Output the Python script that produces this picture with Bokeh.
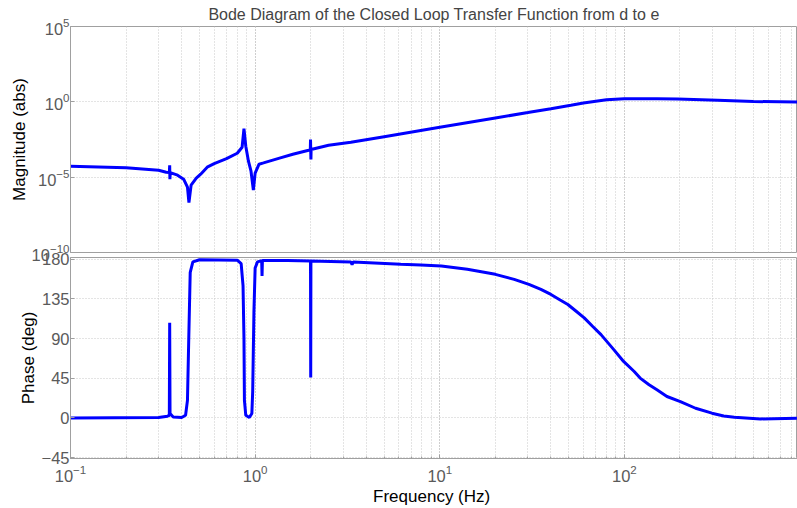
from bokeh.plotting import figure
from bokeh.layouts import column
from bokeh.models import FixedTicker, LogTickFormatter, Range1d
from bokeh.embed import file_html
from bokeh.resources import INLINE

# ---- data ----
freq_mag = [0.1, 0.2, 0.3, 0.33, 0.343, 0.3445, 0.3455, 0.347, 0.38, 0.41, 0.43, 0.438,
            0.45, 0.48, 0.507, 0.55, 0.6, 0.7, 0.8, 0.85, 0.87, 0.89, 0.92, 0.95, 0.978,
            1.0, 1.05, 1.11, 1.37, 1.6, 1.95, 1.99, 1.995, 2.005, 2.01, 2.5, 3.3, 5.0,
            10.0, 20.0, 30.0, 40.0, 51.3, 60.0, 80.0, 100.0, 150.0, 194.0, 320.0, 500.0, 871.0]
mag = [5.35e-5, 4.26e-5, 2.91e-5, 2.14e-5, 2.0e-5, 6.23e-5, 7.37e-6, 1.99e-5, 1.36e-5, 7.37e-6,
       2.18e-6, 2.05e-7, 2.95e-6, 8.59e-6, 1.58e-5, 4.59e-5, 7.83e-5, 1.68e-4, 3.88e-4, 9.70e-4,
       1.68e-2, 1.13e-3, 1.15e-4, 2.49e-5, 1.38e-6, 1.84e-5, 7.26e-5, 8.85e-5, 1.90e-4, 3.34e-4,
       6.14e-4, 6.62e-4, 3.14e-3, 1.49e-4, 6.83e-4, 1.32e-3, 2.08e-3, 4.89e-3, 2.05e-2, 8.46e-2,
       0.193, 0.349, 0.587, 0.833, 1.36, 1.63, 1.58, 1.53, 1.26, 1.05, 0.97]

freq_phase = [0.1, 0.3, 0.335, 0.343, 0.3445, 0.346, 0.36, 0.4, 0.42, 0.43, 0.437, 0.445,
              0.46, 0.5, 0.8, 0.84, 0.86, 0.87, 0.875, 0.89, 0.93, 0.96, 0.97, 0.985, 1.0,
              1.03, 1.085, 1.09, 1.095, 1.5, 1.995, 2.0, 2.005, 3.3, 3.35, 3.4, 6.15, 7.9,
              10.2, 14.1, 20.0, 25.3, 30.4, 35.3, 40.0, 44.4, 49.4, 54.8, 60.6, 67.2, 74.7,
              80.9, 87.6, 99.0, 113.0, 121.7, 136.0, 150.0, 170.0, 201.0, 243.0, 298.0, 345.0,
              394.0, 546.0, 860.0]
phase = [0.0, 0.5, 2.0, 3.0, 108.0, 5.0, 1.0, 0.5, 3.0, 20.0, 90.0, 165.0,
         177.0, 179.5, 179.0, 175.0, 150.0, 90.0, 20.0, 3.0, 0.5, 5.0, 30.0, 120.0, 170.0,
         177.0, 178.5, 161.0, 178.5, 178.5, 178.0, 46.0, 178.0, 177.0, 174.0, 177.0, 174.3, 173.5,
         172.4, 168.6, 162.9, 157.2, 151.5, 145.8, 140.1, 134.4, 128.7, 121.0, 113.5, 104.0, 94.5,
         86.0, 77.5, 64.1, 52.7, 45.2, 37.6, 31.9, 24.3, 18.6, 11.0, 5.4, 2.3,
         0.8, -1.1, -0.3]

mag_ticks = [1e-10, 1e-5, 1e0, 1e5]
phase_ticks = [-45, 0, 45, 90, 135, 180]
title_text = "Bode Diagram of the Closed Loop Transfer Function from d to e"
mag_label = "Magnitude (abs)"
phase_label = "Phase (deg)"
freq_label = "Frequency  (Hz)"

FONT = "Liberation Sans"
TICK_COLOR = "#5a5a5a"
AXIS_COLOR = "#a0a0a0"
GRID_COLOR = "#c8c8c8"
X_RANGE = (0.1, 866.0)


def style(p):
    p.outline_line_color = AXIS_COLOR
    p.outline_line_width = 1
    for ax in p.axis:
        ax.axis_line_color = AXIS_COLOR
        ax.major_tick_line_color = AXIS_COLOR
        ax.minor_tick_line_color = AXIS_COLOR
        ax.major_tick_in = 4
        ax.major_tick_out = 0
        ax.minor_tick_in = 2
        ax.minor_tick_out = 0
        ax.major_label_text_font = FONT
        ax.major_label_text_font_size = "16.5px"
        ax.major_label_text_color = TICK_COLOR
        ax.axis_label_text_font = FONT
        ax.axis_label_text_font_size = "17px"
        ax.axis_label_text_font_style = "normal"
        ax.axis_label_text_color = "black"
    for g in p.grid:
        g.grid_line_color = GRID_COLOR
        g.grid_line_dash = "1 2"
        g.grid_line_width = 1
    p.xgrid.minor_grid_line_color = GRID_COLOR
    p.xgrid.minor_grid_line_dash = "1 2"
    p.xgrid.minor_grid_line_width = 1
    p.yaxis.major_label_standoff = 1


# ---- magnitude ----
p1 = figure(width=797, height=266, x_axis_type="log", y_axis_type="log",
            x_range=Range1d(*X_RANGE), y_range=Range1d(1e-10, 1e5),
            output_backend="svg", toolbar_location=None,
            min_border_left=70, min_border_right=0, min_border_top=25, min_border_bottom=14)
p1.title.text = title_text
p1.title.text_font = FONT
p1.title.text_font_size = "16px"
p1.title.text_font_style = "normal"
p1.title.align = "center"
p1.title.offset = 0
p1.title.standoff = 7
p1.line(freq_mag, mag, line_color="#0000ff", line_width=3)
p1.yaxis.ticker = FixedTicker(ticks=mag_ticks)
p1.yaxis.formatter = LogTickFormatter()
p1.yaxis.axis_label = mag_label
p1.xaxis.visible = False
style(p1)
p1.yaxis.axis_label_standoff = 0

# ---- phase ----
p2 = figure(width=797, height=260, x_axis_type="log",
            x_range=p1.x_range, y_range=Range1d(-46, 182),
            output_backend="svg", toolbar_location=None,
            min_border_left=70, min_border_right=0, min_border_top=9, min_border_bottom=48,
            margin=(-18, 0, 0, 0))
p2.border_fill_color = None
p2.background_fill_color = None
p2.line(freq_phase, phase, line_color="#0000ff", line_width=3)
p2.yaxis.ticker = FixedTicker(ticks=phase_ticks)
p2.yaxis.axis_label = phase_label
p2.xaxis.axis_label = freq_label
style(p2)
p2.yaxis.axis_label_standoff = 1
p2.xaxis.major_label_standoff = 6
p2.xaxis.axis_label_standoff = 2

layout = column(p1, p2, spacing=0)
open("out.html", "w").write(file_html(layout, INLINE))
